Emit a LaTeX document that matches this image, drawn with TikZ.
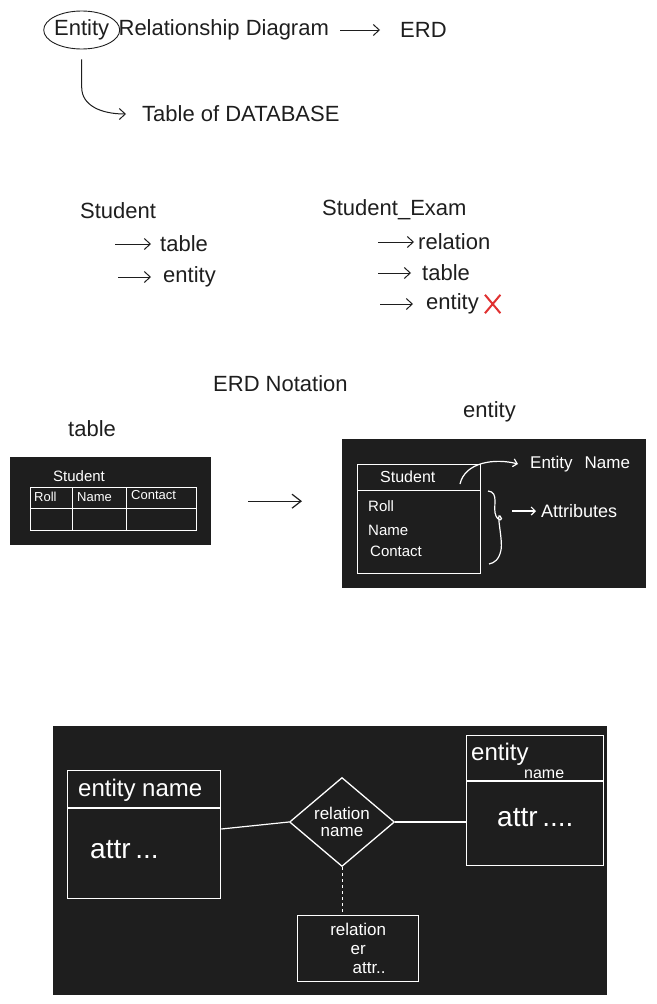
\documentclass[tikz,border=0pt]{standalone}
\usepackage{fontspec}
\setmainfont{Liberation Sans}
\usetikzlibrary{arrows.meta, positioning, shapes.geometric, calc}
\definecolor{board}{HTML}{1E1E1E}
\definecolor{ink}{HTML}{1E1E1E}
\definecolor{inkred}{HTML}{E03131}

\begin{document}
\begin{tikzpicture}[
    x=1pt, y=-1pt,
    note/.style={anchor=west, inner sep=0pt, text=ink, font=\fontsize{22}{24}\selectfont},
    chalk/.style={anchor=west, inner sep=0pt, text=white},
    pen/.style={draw=ink, line width=1pt, -{Straight Barb[length=6pt,width=11pt]}},
    chalkline/.style={draw=white, line width=1.2pt},
    chalkarrow/.style={chalkline, -{Straight Barb[length=4pt,width=8pt]}},
    boardbox/.style={fill=board, draw=none, anchor=north west, inner sep=0pt},
    entitybox/.style={draw=white, line width=1.3pt, anchor=north west, inner sep=0pt},
    relbox/.style={diamond, draw=white, line width=1.3pt, inner sep=0pt, text=white, align=center}
]
\useasboundingbox (0,0) rectangle (656,1004);

% Title
\node[note] (entity) at (54,30) {Entity};
\node[note, right=9pt of entity] (erdname) {Relationship Diagram};
\node[note] (erd) at (400,30) {ERD};
\node[ellipse, draw=ink, line width=0.9pt, minimum width=76pt, minimum height=38pt] (entitycircle) at (entity.center) {};
\node[note] (tabledb) at (142,114) {Table of DATABASE};
\draw[pen] ([xshift=-60pt]erd.west) -- ([xshift=-20pt]erd.west);
\draw[pen] ([yshift=-10pt]entitycircle.south) -- ++(0,28) .. controls +(0,18) and +(-25,0) .. ([xshift=-16pt]tabledb.west);

% Student vs Student_Exam
\node[note] (student) at (80,211) {Student};
\node[note] (stable) at (160,244) {table};
\node[note] (sentity) at (163,277) {entity};
\node[note] (exam) at (322,210) {Student\_Exam};
\node[note] (erel) at (418,242) {relation};
\node[note] (etable) at (422,273) {table};
\node[note] (eentity) at (426,304) {entity};
\node[minimum width=15pt, minimum height=18pt, inner sep=0pt, right=6pt of eentity] (wrong) {};
\draw[pen] ([xshift=-45pt]stable.west) -- ([xshift=-9pt]stable.west);
\draw[pen] ([xshift=-45pt]sentity.west) -- ([xshift=-12pt]sentity.west);
\draw[pen] ([xshift=-40pt]erel.west) -- ([xshift=-4pt]erel.west);
\draw[pen] ([xshift=-44pt]etable.west) -- ([xshift=-11pt]etable.west);
\draw[pen] ([xshift=-46pt]eentity.west) -- ([xshift=-13pt]eentity.west);
\draw[inkred, line width=2pt] (wrong.north west) -- (wrong.south east) (wrong.north east) -- (wrong.south west);

% ERD notation
\node[note] (notation) at (213,384) {ERD Notation};
\node[note] (ltable) at (68,429) {table};
\node[note] (rentity) at (463,412) {entity};

\node[boardbox, minimum width=201pt, minimum height=88pt] (tableboard) at (10,457) {};
\node[chalk, font=\fontsize{15}{16}\selectfont] (tname) at (53,476) {Student};
\draw[chalkline, line width=0.8pt] (30,487) rectangle (196,530) (30,508) -- (196,508) (72,487) -- (72,530) (126,487) -- (126,530);
\node[chalk, font=\fontsize{13}{14}\selectfont] (troll) at (34,497) {Roll};
\node[chalk, font=\fontsize{13}{14}\selectfont] (tnamecol) at (77,497) {Name};
\node[chalk, font=\fontsize{13}{14}\selectfont] (tcontact) at (131,495) {Contact};

\node[boardbox, minimum width=304pt, minimum height=149pt] (entityboard) at (342,439) {};
\draw[pen, line width=1.2pt, -{Straight Barb[length=9pt,width=14pt]}] ([xshift=37pt]tableboard.east) -- ([xshift=-40pt]tableboard.east -| entityboard.west);

\node[entitybox, line width=1pt, minimum width=123pt, minimum height=109pt] (stuentity) at (357,464) {};
\draw[chalkline, line width=1pt] ([yshift=-26pt]stuentity.north west) -- ([yshift=-26pt]stuentity.north east);
\node[chalk, font=\fontsize{16}{17}\selectfont] (sname) at (380,477) {Student};
\node[chalk, font=\fontsize{15}{16}\selectfont] (sroll) at (368,506) {Roll};
\node[chalk, font=\fontsize{15}{16}\selectfont] (sncol) at (368,530) {Name};
\node[chalk, font=\fontsize{15}{16}\selectfont] (scontact) at (370,551) {Contact};
\node[chalk, font=\fontsize{17}{18}\selectfont] (entname) at (530,464) {Entity\hspace{12pt}Name};
\node[chalk, font=\fontsize{18}{19}\selectfont] (attrs) at (541,511) {Attributes};
\coordinate (hookstart) at (460,484);
\draw[chalkarrow] (hookstart) .. controls (465,462) and (495,458) .. ([xshift=-12pt]entname.west);
\draw[chalkline] (488,491) .. controls (500,492) and (492,508) .. (496,516) .. controls (499,522) and (504,520) .. (500,516) .. controls (496,512) and (503,540) .. (501,550) .. controls (499,560) and (494,563) .. (489,564);
\draw[chalkarrow] ([xshift=-29pt]attrs.west) -- ([xshift=-5pt]attrs.west);

% ERD example board
\node[boardbox, minimum width=554pt, minimum height=269pt] (erdboard) at (53,726) {};
\node[entitybox, minimum width=153pt, minimum height=128pt] (leftent) at (67,770) {};
\draw[chalkline] ([yshift=-38pt]leftent.north west) -- ([yshift=-38pt]leftent.north east);
\node[chalk, font=\fontsize{24}{25}\selectfont] (lname) at (78,790) {entity name};
\node[chalk, font=\fontsize{28}{29}\selectfont] (lattr) at (90,850) {attr\,...};

\node[entitybox, minimum width=137pt, minimum height=130pt] (rightent) at (466,735) {};
\draw[chalkline] ([yshift=-46pt]rightent.north west) -- ([yshift=-46pt]rightent.north east);
\node[chalk, font=\fontsize{24}{25}\selectfont] (rname) at (471,754) {entity};
\node[chalk, font=\fontsize{16}{17}\selectfont] (rname2) at (524,774) {name};
\node[chalk, font=\fontsize{28}{29}\selectfont] (rattr) at (497,818) {attr\,....};

\node[relbox, minimum width=105pt, minimum height=89pt, font=\fontsize{17}{17}\selectfont] (rel) at (342,822) {relation\\name};
\node[entitybox, minimum width=121pt, minimum height=66pt] (relattr) at (297,915) {};
\node[text=white, inner sep=0pt, align=center, font=\fontsize{17}{19}\selectfont] (relattrtext) at (relattr.center) {relation\\er\\\hspace{22pt}attr..};

\draw[chalkline] (leftent.east |- 0,829) -- (rel.west);
\draw[chalkline] (rel.east) -- (rel.east -| rightent.west);
\draw[chalkline, dashed, line width=1pt] (rel.south) -- (rel.south |- relattr.north);

\end{tikzpicture}
\end{document}
